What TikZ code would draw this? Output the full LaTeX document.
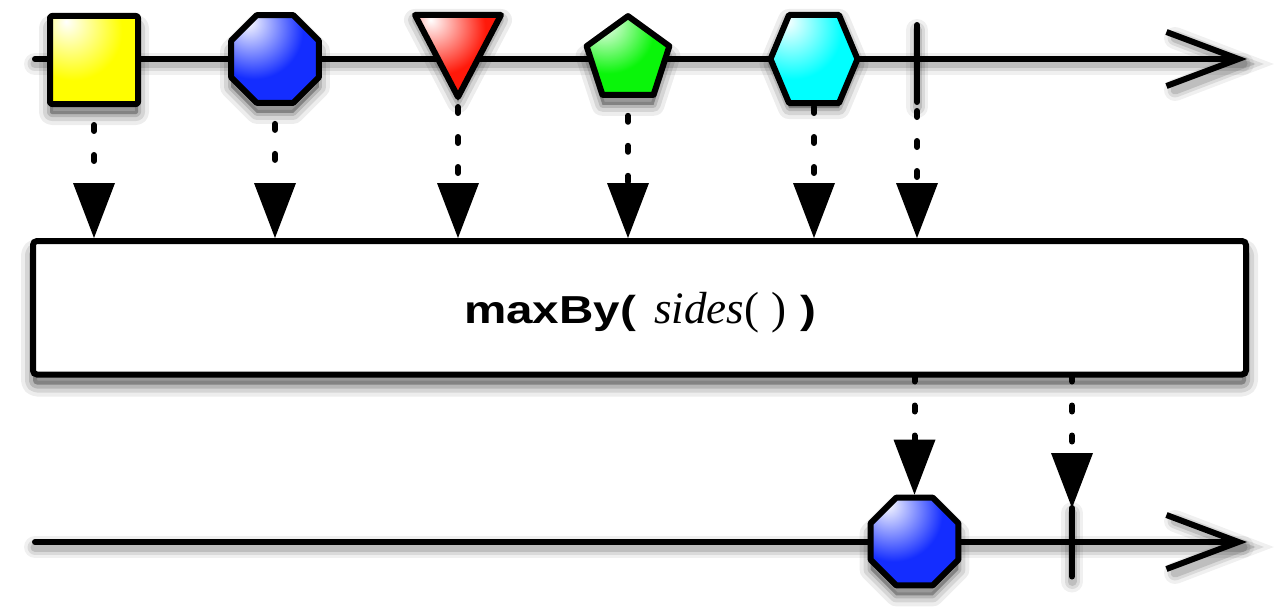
\documentclass[tikz,border=0pt]{standalone}
\usepackage{fontspec}
\setmainfont{Liberation Serif}
\newfontfamily\helv{Liberation Sans}
\usetikzlibrary{arrows.meta,shapes.geometric,calc}
\definecolor{cY}{RGB}{255,255,0}
\definecolor{cB}{RGB}{20,45,255}
\definecolor{cR}{RGB}{255,25,10}
\definecolor{cG}{RGB}{10,245,10}
\definecolor{cC}{RGB}{0,255,255}
\newcommand\mkball[2]{\pgfdeclareradialshading{#1}{\pgfpoint{-16bp}{22bp}}{color(0bp)=(white); color(28bp)=(#2); color(58bp)=(#2); color(85bp)=(#2!65!black); color(112bp)=(#2!25!black)}}
\mkball{ballY}{cY}
\mkball{ballB}{cB}
\mkball{ballR}{cR}
\mkball{ballG}{cG}
\mkball{ballC}{cC}
\tikzset{
  ball/.style={draw, line width=6pt, line join=round, shade, shading=#1, inner sep=0pt},
  ghost/.style={inner sep=0pt, line width=6pt},
  shad/.style n args={2}{fill=black, draw=black, line width=#1pt, opacity=#2, line join=round,
    line cap=round, inner sep=0pt, transform canvas={yshift=-5pt}},
  shline/.style n args={2}{draw=black, line width=#1pt, opacity=#2, line cap=round,
    transform canvas={yshift=-5pt}},
  mline/.style={line width=6pt, line cap=round, -{Straight Barb[length=72pt,width=54pt]}},
  tickline/.style={line width=6pt, line cap=round},
  conn/.style={line width=6pt, line cap=round, dash pattern=on 6pt off 24pt, dash phase=12pt,
    -{Triangle[width=42pt,length=55pt,line width=0pt]}},
  boxdim/.style={rounded corners=4pt, inner sep=0pt, minimum width=1213pt, minimum height=133.5pt},
  opbox/.style={boxdim, draw, fill=white, line width=6pt},
}
\begin{document}
\begin{tikzpicture}[x=1pt,y=-1pt]
\useasboundingbox (0,0) rectangle (1280,610);
% named points
\coordinate (a1) at (35,59);
\coordinate (a2) at (1247,59);
\coordinate (b1) at (35,542);
\coordinate (b2) at (1247,542);
\coordinate (t1) at (917,63);
\coordinate (t2) at (1072,542.5);
\coordinate (tri) at (458,59);
\coordinate (hex) at (814,59);
\coordinate (t2top) at (1072,508);
% invisible named nodes for the marbles (drawn later on top of connectors)
\node[ghost, rectangle, minimum size=88pt] (sq) at (94,60) {};
\node[ghost, regular polygon, regular polygon sides=8, minimum size=95pt] (oct1) at (275,59) {};
\node[ghost, regular polygon, regular polygon sides=5, minimum size=87pt] (pent) at (628,59.6) {};
\node[ghost, regular polygon, regular polygon sides=8, minimum size=95pt] (oct2) at (914.5,541.5) {};
% box shadow and operator box
\foreach \w/\o in {24/0.07,16/0.1,8/0.14}{
  \node[boxdim, shad={\w}{\o}] at (639.5,307.75) {};
}
\node[opbox] (box) at (639.5,307.75) {};
\node[anchor=base] (lbl) at (640,323) {\helv\bfseries\fontsize{39}{42}\selectfont\scalebox{1.22}[1]{maxBy(}\hspace{18pt}{\rmfamily\mdseries\fontsize{45}{48}\selectfont\textit{sides}(\hspace{12pt})}\hspace{14pt}\scalebox{1.22}[1]{)}};
% line shadows
\foreach \w/\o in {22/0.06,15/0.09,9/0.13}{
  \draw[shline={\w}{\o}] (a1) -- ($(a2)+(-4,0)$);
  \draw[shline={\w}{\o}] ($(a2)+(-72,-26)$) -- ($(a2)+(-4,0)$) -- ($(a2)+(-72,26)$);
  \draw[shline={\w}{\o}] (b1) -- ($(b2)+(-4,0)$);
  \draw[shline={\w}{\o}] ($(b2)+(-72,-26)$) -- ($(b2)+(-4,0)$) -- ($(b2)+(-72,26)$);
  \draw[shline={\w}{\o}] ($(t1)+(0,-38)$) -- ($(t1)+(0,39)$);
  \draw[shline={\w}{\o}] (t2top) -- ($(t2)+(0,34)$);
}
% time lines
\draw[mline] (a1) -- (a2);
\draw[mline] (b1) -- (b2);
% connectors
\draw[conn] (sq) -- (sq |- box.north);
\draw[conn] (oct1) -- (oct1 |- box.north);
\draw[conn] (tri) -- (tri |- box.north);
\draw[conn] (pent) -- (pent |- box.north);
\draw[conn] (hex) -- (hex |- box.north);
\draw[conn] (t1) -- (t1 |- box.north);
\draw[conn, dash phase=2pt] (box.south -| oct2) -- (oct2.north);
\draw[conn, dash phase=2pt] (box.south -| t2) -- (t2top);
% marble shadows
\foreach \w/\o in {22/0.07,14/0.1,6/0.14}{
  \node[shad={\w}{\o}, rectangle, minimum size=88pt, rounded corners=2pt] at (sq) {};
  \node[shad={\w}{\o}, regular polygon, regular polygon sides=8, minimum size=95pt] at (oct1) {};
  \node[shad={\w}{\o}, regular polygon, regular polygon sides=5, minimum size=87pt] at (pent) {};
  \node[shad={\w}{\o}, regular polygon, regular polygon sides=8, minimum size=95pt] at (oct2) {};
  \path[shad={\w}{\o}, shift={(tri)}] (-43,-44) -- (43,-44) -- (0,38) -- cycle;
  \path[shad={\w}{\o}, shift={(hex)}] (-43.5,0) -- (-25,-44) -- (25,-44) -- (43.5,0) -- (25,44) -- (-25,44) -- cycle;
}
% marbles
\node[ball=ballY, rectangle, minimum size=88pt, rounded corners=2pt] at (sq) {};
\node[ball=ballB, regular polygon, regular polygon sides=8, minimum size=95pt] at (oct1) {};
\node[ball=ballG, regular polygon, regular polygon sides=5, minimum size=87pt] at (pent) {};
\node[ball=ballB, regular polygon, regular polygon sides=8, minimum size=95pt] at (oct2) {};
\path[ball=ballR, shift={(tri)}] (-43,-44) -- (43,-44) -- (0,38) -- cycle;
\path[ball=ballC, shift={(hex)}] (-43.5,0) -- (-25,-44) -- (25,-44) -- (43.5,0) -- (25,44) -- (-25,44) -- cycle;
% ticks
\draw[tickline] ($(t1)+(0,-38)$) -- ($(t1)+(0,39)$);
\draw[tickline] (t2top) -- ($(t2)+(0,34)$);
\end{tikzpicture}
\end{document}
